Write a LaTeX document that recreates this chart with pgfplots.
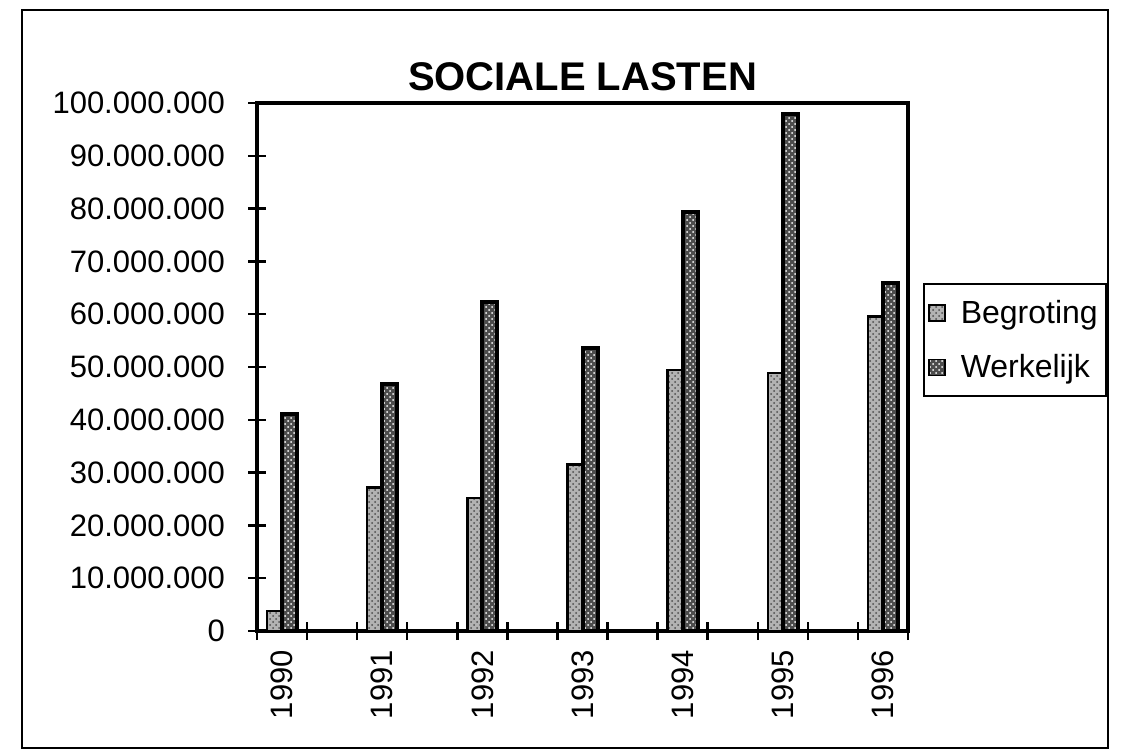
\documentclass[border=0pt]{standalone}
\usepackage{fontspec}
\setmainfont{Liberation Sans}
\usepackage{pgfplots}
\pgfplotsset{compat=1.18}
\usetikzlibrary{patterns}

\pgfplotstableread{
pos begroting werkelijk
0.5  3800000  41100000
2.5  27200000 46800000
4.5  25200000 62300000
6.5  31500000 53600000
8.5  49400000 79400000
10.5 48900000 98000000
12.5 59600000 66000000
}\lasten

\begin{document}
\begin{tikzpicture}
% page frame (scan border)
\path (0pt,0pt) rectangle (560.5pt,375.5pt);
\draw[line width=1pt] (11pt,1.5pt) rectangle (554pt,370.5pt);
\begin{axis}[
	at = {(128.5pt,60pt)},
	anchor = south west,
	scale only axis,
	width = 325.5pt,
	height = 264pt,
	ybar = 0pt,
	bar width = 0.3,
	xmin = 0, xmax = 13,
	ymin = 0, ymax = 100000000,
	xtick = {0,1,...,13},
	xticklabels = {},
	extra x ticks = {0.5,2.5,4.5,6.5,8.5,10.5,12.5},
	extra x tick labels = {1990,1991,1992,1993,1994,1995,1996},
	extra x tick style = {major tick length=0pt},
	xticklabel style = {rotate=90, anchor=east, xshift=-6pt},
	xtick pos = left,
	ytick pos = left,
	ytick = {0,10000000,...,100000000},
	scaled y ticks = false,
	yticklabel style = {xshift=-8pt, /pgf/number format/.cd, fixed, 1000 sep={.}, assume math mode=true},
	ticklabel style = {font=\fontsize{15.5pt}{18pt}\selectfont},
	tick align = center,
	major tick length = 9pt,
	tick style = {line width=1.2pt, black},
	axis line style = {line width=1.6pt},
	title = {SOCIALE LASTEN},
	title style = {font=\fontsize{20pt}{23pt}\selectfont\bfseries, at={(0.5,1)}, anchor=base, yshift=0pt},
	legend style = {
		at = {(1.023,0.659)},
		anchor = north west,
		draw = black,
		line width = 1pt,
		font = \fontsize{16pt}{19pt}\selectfont,
		inner xsep = 2pt,
		inner ysep = 6pt,
		row sep = 10pt,
		cells = {anchor=west},
	},
	legend image code/.code = {
		\node[inner sep=0pt, minimum width=14pt, minimum height=8pt, anchor=west] at (-1pt,0pt) {};
		\draw[#1, line width=0.8pt] (0pt,-4pt) rectangle (8pt,4pt);
	},
]
\addplot[draw=black, line width=1.2pt, fill=black!30, postaction={pattern=crosshatch dots, pattern color=black!70}] table[x=pos, y=begroting] {\lasten};
\addplot[draw=black, line width=2pt, fill=black!70, postaction={pattern=crosshatch dots, pattern color=white}] table[x=pos, y=werkelijk] {\lasten};
\legend{Begroting, Werkelijk}
\end{axis}
\end{tikzpicture}
\end{document}
